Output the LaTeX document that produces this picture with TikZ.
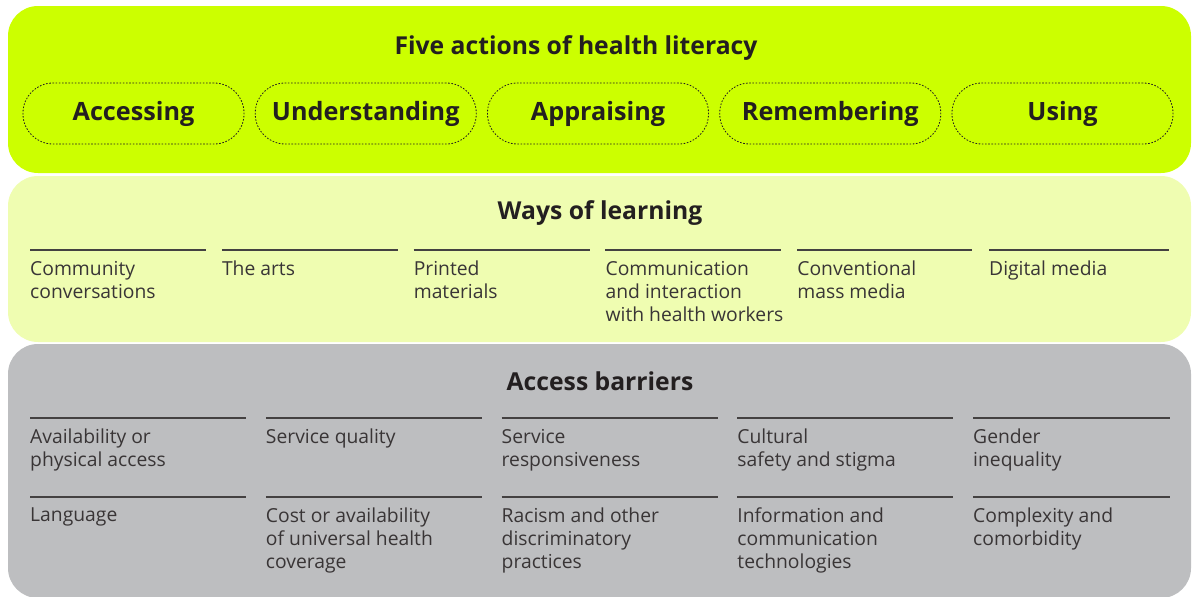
\documentclass[tikz,border=0pt]{standalone}
\usepackage{fontspec}
\setmainfont{Open Sans}
\definecolor{limegreen}{HTML}{CCFF00}
\definecolor{palelime}{HTML}{EFFDB1}
\definecolor{barriergrey}{HTML}{BDBEC0}
\definecolor{inkdark}{HTML}{231F20}
\tikzset{
  panel/.style={rounded corners=30pt},
  paneltitle/.style={anchor=base, inner sep=0pt, text=inkdark, font=\bfseries\fontsize{24.7}{30}\selectfont},
  actionpill/.style={draw=inkdark, dash pattern=on 1.6pt off 1.6pt, line width=0.8pt, rounded corners=30pt,
    minimum width=221pt, minimum height=61pt, text=inkdark, font=\bfseries\fontsize{25.2}{32}\selectfont},
  itemrule/.style={draw=inkdark!85, line width=1.1pt},
  itemtext/.style={anchor=north west, align=left, inner sep=0pt, text=inkdark!90, font=\fontsize{19.3}{23}\selectfont},
}

\begin{document}
\begin{tikzpicture}[x=1pt, y=-1pt]
      \useasboundingbox (0,0) rectangle (1197,597);

      % panels
      \fill[panel, barriergrey] (8,344) rectangle (1191,598);
      \fill[panel, palelime] (8,176) rectangle (1191,342);
      \fill[panel, limegreen] (8,6) rectangle (1191,173);

      % titles
      \node[paneltitle] (actions) at (576,54) {Five actions of health literacy};
      \node[paneltitle] (ways) at (600,219) {Ways of learning};
      \node[paneltitle] (barriers) at (600,390) {Access barriers};

      % five actions
      \foreach \name [count=\i from 0] in {Accessing, Understanding, Appraising, Remembering, Using}
        \node[actionpill] (act-\name) at (133.5+232.25*\i,113.5) {\name};

      % ways of learning
      \foreach \txt/\len [count=\i from 0] in {{Community\\conversations}/176, {The arts}/176, {Printed\\materials}/176,
          {Communication\\and interaction\\with health workers}/176, {Conventional\\mass media}/175, {Digital media}/180} {
        \draw[itemrule] (30+191.8*\i,250) -- ++(\len,0);
        \node[itemtext] (way-\i) at (30+191.8*\i,261) {\txt};
      }

      % access barriers
      \foreach \txt/\len [count=\i from 0] in {{Availability or\\physical access}/216, {Service quality}/216,
          {Service\\responsiveness}/216, {Cultural\\safety and stigma}/216, {Gender\\inequality}/197} {
        \draw[itemrule] (30+235.75*\i,418) -- ++(\len,0);
        \node[itemtext] (bar-a\i) at (30+235.75*\i,429) {\txt};
      }
      \foreach \txt/\len [count=\i from 0] in {{Language}/216, {Cost or availability\\of universal health\\coverage}/216,
          {Racism and other\\discriminatory\\practices}/216, {Information and\\communication\\technologies}/216,
          {Complexity and\\comorbidity}/197} {
        \draw[itemrule] (30+235.75*\i,497) -- ++(\len,0);
        \node[itemtext] (bar-b\i) at (30+235.75*\i,508) {\txt};
      }
\end{tikzpicture}
\end{document}
